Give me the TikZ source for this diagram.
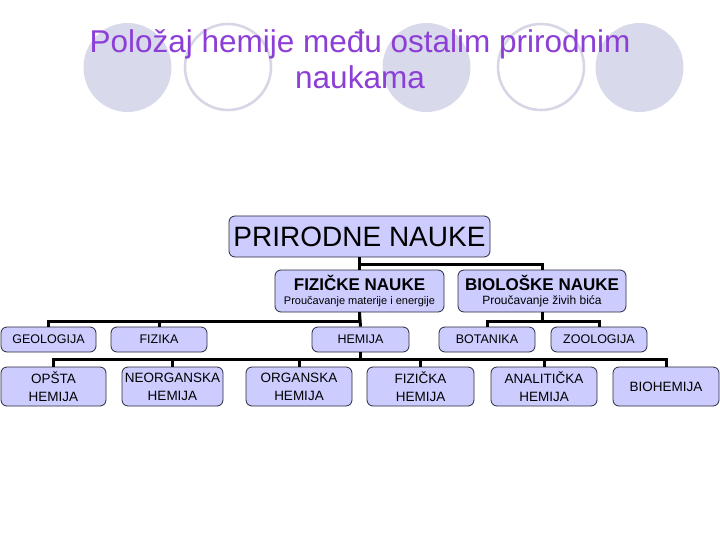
\documentclass[tikz,border=0pt]{standalone}
\usepackage{fontspec}
\setmainfont{Liberation Sans}
\definecolor{titlec}{RGB}{140,62,214}
\definecolor{circfill}{RGB}{217,217,236}
\definecolor{circline}{RGB}{214,214,230}
\definecolor{boxfill}{RGB}{204,204,255}
\definecolor{boxline}{RGB}{40,40,60}
\begin{document}
\begin{tikzpicture}[x=1pt,y=-1pt,
  box/.style={draw=boxline, line width=0.8pt, fill=boxfill, rounded corners=6pt, inner sep=0pt, align=center, text=black},
  rowthree/.style={box, minimum height=25pt, font=\fontsize{12.5}{14}\selectfont},
  rowfour/.style={box, minimum height=39pt, font=\fontsize{13.5}{18}\selectfont},
  conn/.style={line width=3pt, black},
  fcirc/.style={fill=circfill, draw=none},
  ocirc/.style={draw=circline, line width=2.6pt, fill=none}]
\useasboundingbox (0,0) rectangle (720,540);
% decorative circles
\fill[fcirc] (127.5,67.5) ellipse [x radius=44pt, y radius=44.5pt];
\draw[ocirc] (228,67) ellipse [x radius=43pt, y radius=43pt];
\fill[fcirc] (426.5,67.5) ellipse [x radius=44pt, y radius=44.5pt];
\draw[ocirc] (541,67) ellipse [x radius=43pt, y radius=43pt];
\fill[fcirc] (639.5,67.5) ellipse [x radius=44pt, y radius=44.5pt];
% title
\node[anchor=base, text=titlec, font=\fontsize{31.5}{36}\selectfont, inner sep=0pt] (t1) at (360,53) {Položaj hemije među ostalim prirodnim};
\node[anchor=base, text=titlec, font=\fontsize{31.5}{36}\selectfont, inner sep=0pt] (t2) at (360,89) {naukama};
% boxes
\node[box, minimum width=261pt, minimum height=41pt, font=\fontsize{28}{30}\selectfont] (pn) at (359.5,236.5) {PRIRODNE NAUKE};
\node[box, minimum width=169pt, minimum height=42pt] (fn) at (359.5,291)
  {{\fontsize{17}{19}\selectfont\bfseries FIZIČKE NAUKE}\\[1.5pt]{\fontsize{11}{13}\selectfont Proučavanje materije i energije}};
\node[box, minimum width=168pt, minimum height=42pt] (bn) at (542,291)
  {{\fontsize{17}{19}\selectfont\bfseries BIOLOŠKE NAUKE}\\[1.5pt]{\fontsize{12}{13}\selectfont Proučavanje živih bića}};
\node[rowthree, minimum width=95pt] (geo) at (48.5,339.5) {GEOLOGIJA};
\node[rowthree, minimum width=96pt] (fiz) at (159,339.5) {FIZIKA};
\node[rowthree, minimum width=97pt] (hem) at (360.5,339.5) {HEMIJA};
\node[rowthree, minimum width=96pt] (bot) at (487,339.5) {BOTANIKA};
\node[rowthree, minimum width=96pt] (zoo) at (599,339.5) {ZOOLOGIJA};
\node[rowfour, minimum width=105pt] (ops) at (53.5,386.5) {OPŠTA\\HEMIJA};
\node[rowfour, minimum width=101pt] (neo) at (172.5,386.5) {NEORGANSKA\\HEMIJA};
\node[rowfour, minimum width=106pt] (org) at (299,386.5) {ORGANSKA\\HEMIJA};
\node[rowfour, minimum width=107pt] (fzh) at (420.5,386.5) {FIZIČKA\\HEMIJA};
\node[rowfour, minimum width=106pt] (ana) at (544,386.5) {ANALITIČKA\\HEMIJA};
\node[rowfour, minimum width=106pt] (bio) at (666,386.5) {BIOHEMIJA};
% connectors
\draw[conn] (pn.south) -- (fn.north);
\draw[conn] (pn.south) -- ++(0,7.5) -| (bn.north);
\draw[conn] (fn.south) -- (hem.north);
\draw[conn] (fn.south) -- ++(0,9) -| (geo.north);
\draw[conn] (fn.south) -- ++(0,9) -| (fiz.north);
\draw[conn] (bn.south) -- ++(0,9) -| (bot.north);
\draw[conn] (bn.south) -- ++(0,9) -| (zoo.north);
\draw[conn] (hem.south) -- ++(0,7) -| (ops.north);
\draw[conn] (hem.south) -- ++(0,7) -| (neo.north);
\draw[conn] (hem.south) -- ++(0,7) -| (org.north);
\draw[conn] (hem.south) -- ++(0,7) -| (fzh.north);
\draw[conn] (hem.south) -- ++(0,7) -| (ana.north);
\draw[conn] (hem.south) -- ++(0,7) -| (bio.north);
\end{tikzpicture}
\end{document}
